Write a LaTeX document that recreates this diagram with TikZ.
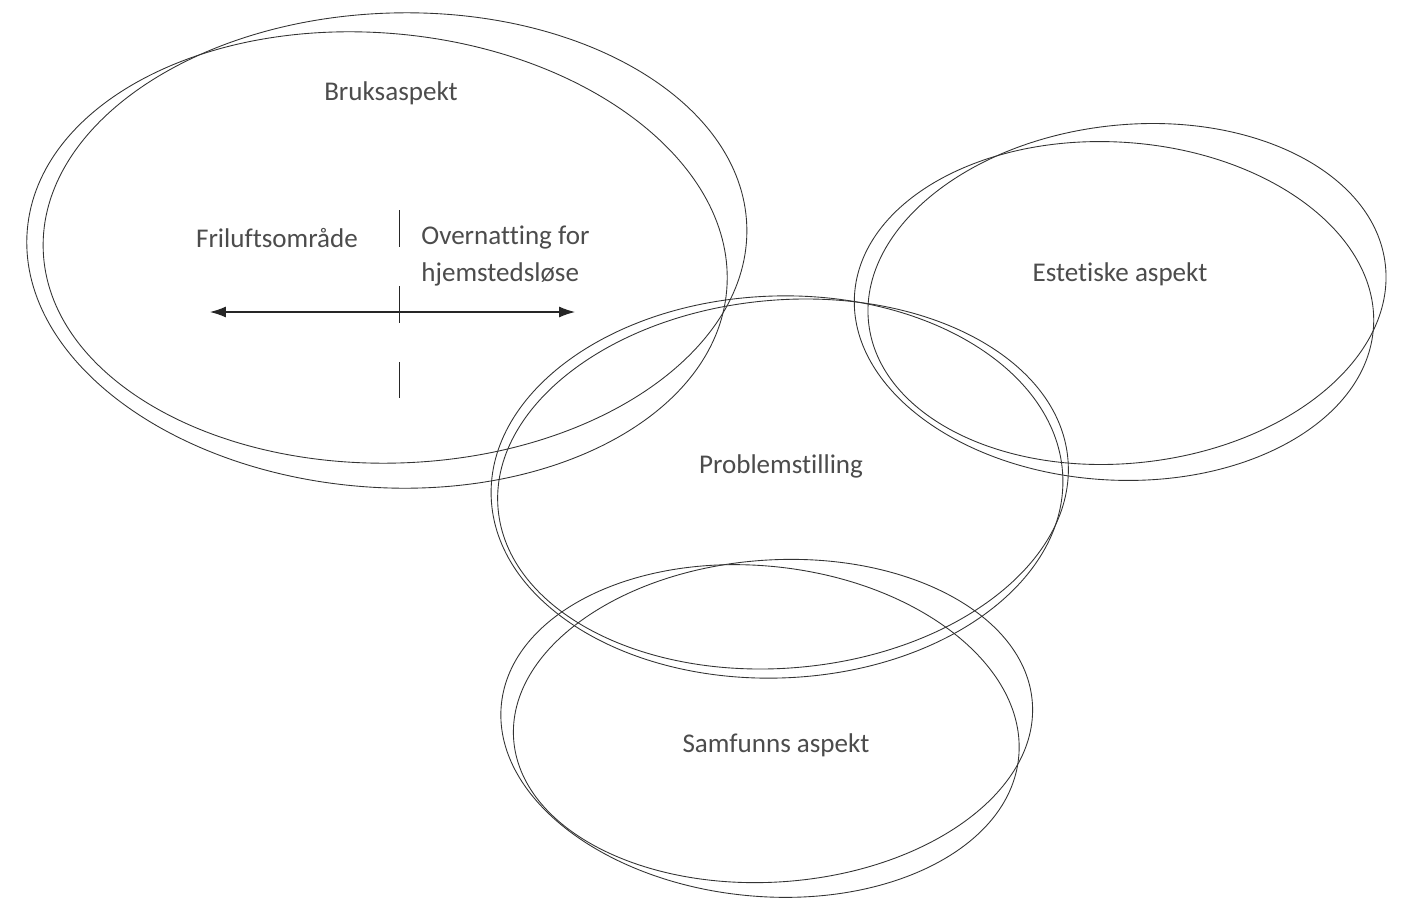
\documentclass[tikz,border=0pt]{standalone}
\usepackage{fontspec}
\setmainfont[Ligatures=NoCommon]{Carlito}
\usetikzlibrary{positioning,arrows.meta}

\tikzset{
  sketch/.style={draw=black!80, line width=0.5pt},
  lbl/.style={font=\fontsize{15.4}{21}\selectfont, text=black!70, inner sep=0pt}
}

\begin{document}
\begin{tikzpicture}[x=0.02cm, y=-0.02cm]
    \useasboundingbox (0,0) rectangle (1407,899);

    % Bruksaspekt (two strokes)
    \draw[sketch, rotate around={2:(395,238)}] (395,238) ellipse [x radius=352, y radius=225];
    \draw[sketch, rotate around={-5:(377,260)}] (377,260) ellipse [x radius=351, y radius=227];

    % Problemstilling
    \draw[sketch, rotate around={2:(777,487)}] (777,487) ellipse [x radius=286, y radius=191];
    \draw[sketch, rotate around={5:(783,484)}] (783,484) ellipse [x radius=286, y radius=184];

    % Estetiske aspekt
    \draw[sketch, rotate around={6.5:(1127,294)}] (1127,294) ellipse [x radius=260, y radius=169];
    \draw[sketch, rotate around={-3.5:(1114,311)}] (1114,311) ellipse [x radius=260, y radius=169];

    % Samfunns aspekt
    \draw[sketch, rotate around={4:(773,721)}] (773,721) ellipse [x radius=260, y radius=161];
    \draw[sketch, rotate around={-6:(760,731)}] (760,731) ellipse [x radius=260, y radius=165];

    % Labels
    \node[lbl] (bruks) at (391,93) {Bruksaspekt};
    \node[lbl] (frilufts) at (277,238) {Friluftsområde};
    \node[lbl, align=left, anchor=west] (overnatting) at (421,256) {Overnatting for\\hjemstedsløse};
    \node[lbl] (estetisk) at (1120,274) {Estetiske aspekt};
    \node[lbl] (problem) at (781,466) {Problemstilling};
    \node[lbl] (samfunn) at (776,745) {Samfunns aspekt};

    % Scale between the two uses
    \coordinate (skalaV) at (210,312);
    \coordinate (skalaH) at (575,312);
    \draw[black!85, line width=0.6pt, {Latex[length=3.2mm,width=2.2mm]}-{Latex[length=3.2mm,width=2.2mm]}] (skalaV) -- (skalaH);

    % Dividing line
    \coordinate (skilleT) at (399,210);
    \coordinate (skilleB) at (399,398);
    \draw[black!85, line width=0.5pt, dash pattern=on 0.74cm off 0.78cm] (skilleT) -- (skilleB);
\end{tikzpicture}
\end{document}
